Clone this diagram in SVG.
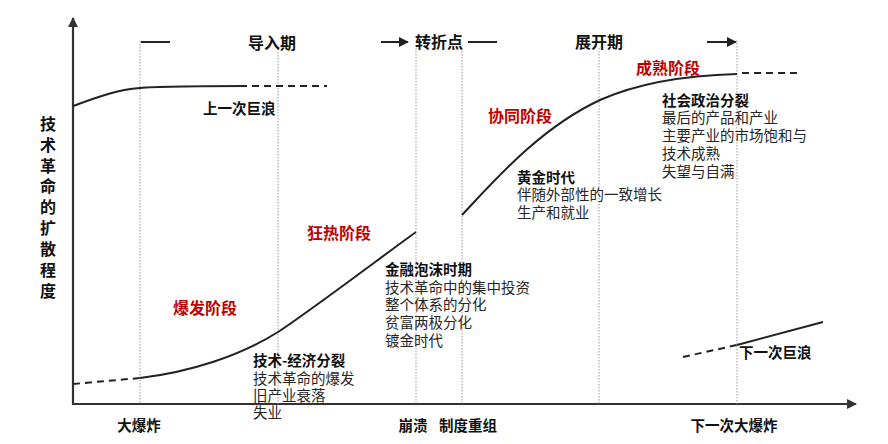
<svg xmlns="http://www.w3.org/2000/svg" width="888" height="444" viewBox="0 0 888 444">
<style>
text{font-family:"Noto Sans CJK SC","Liberation Sans",sans-serif;fill:#262626}
.b{font-weight:bold;fill:#111}
.t{font-size:16px}
.s{font-size:14.5px}
.r{font-size:16px;font-weight:bold;fill:#c00000}
.ax{stroke:#333;stroke-width:2.2;fill:none}
.dot{stroke:#999;stroke-width:1;stroke-dasharray:1.5,1.5;fill:none}
.cv{stroke:#222;stroke-width:2;fill:none}
.ds{stroke:#222;stroke-width:2;fill:none;stroke-dasharray:7,5}
.ln{stroke:#222;stroke-width:2;fill:none}
</style>
<defs>
<marker id="ah" viewBox="0 0 10 10" refX="9" refY="5" markerWidth="5" markerHeight="5" orient="auto"><path d="M0,0 L10,5 L0,10 z" fill="#222"/></marker>
<marker id="aax" viewBox="0 0 10 10" refX="9" refY="5" markerWidth="4.5" markerHeight="4.5" orient="auto"><path d="M0,0 L10,5 L0,10 z" fill="#333"/></marker>
</defs>
<rect width="888" height="444" fill="#fff"/>
<g id="axes">
<path class="ax" d="M73,405 L73,18" marker-end="url(#aax)"/>
<path class="ax" d="M72,404 L856,404" marker-end="url(#aax)"/>
<text class="b" font-size="16" x="48" text-anchor="middle"><tspan x="48" y="130">技</tspan><tspan x="48" y="151">术</tspan><tspan x="48" y="172">革</tspan><tspan x="48" y="192">命</tspan><tspan x="48" y="213">的</tspan><tspan x="48" y="234">扩</tspan><tspan x="48" y="255">散</tspan><tspan x="48" y="276">程</tspan><tspan x="48" y="297">度</tspan></text>
</g>
<g id="gridlines">
<path class="dot" d="M140,41 V404"/>
<path class="dot" d="M278,49 V404"/>
<path class="dot" d="M416,48 V404"/>
<path class="dot" d="M462,48 V404"/>
<path class="dot" d="M599,48 V404"/>
<path class="dot" d="M737,40 V404"/>
</g>
<g id="connectors">
<path class="ln" d="M141,42 H170"/>
<path class="ln" d="M381,42 H408" marker-end="url(#ah)"/>
<path class="ln" d="M468,42 H497"/>
<path class="ln" d="M707,42 H736" marker-end="url(#ah)"/>
<path class="cv" d="M73,106 C95,98 115,90 140,88 C160,86 200,86 247,86"/>
<path class="ds" d="M252,86 L327,86"/>
<path class="ds" d="M73,384 L140,378"/>
<path class="cv" d="M140,378 C190,372 240,356 278,332 C310,311 380,258 416,232"/>
<path class="cv" d="M462,215 C495,180 540,128 600,100 C645,80 700,75 737,74"/>
<path class="ds" d="M742,73 L797,73"/>
<path class="ds" d="M683,357 L737,345"/>
<path class="cv" d="M737,345 L823,322"/>
</g>
<g id="top-labels">
<text class="b t" x="272" y="49" text-anchor="middle">导入期</text>
<text class="b t" x="439" y="48" text-anchor="middle">转折点</text>
<text class="b t" x="599" y="48" text-anchor="middle">展开期</text>
</g>
<g id="bottom-labels">
<text class="b s" x="139" y="431" text-anchor="middle">大爆炸</text>
<text class="b s" x="413" y="431" text-anchor="middle">崩溃</text>
<text class="b s" x="468" y="431" text-anchor="middle">制度重组</text>
<text class="b s" x="734" y="431" text-anchor="middle">下一次大爆炸</text>
</g>
<g id="wave-labels">
<text class="b s" x="203" y="114">上一次巨浪</text>
<text class="b s" x="739" y="358">下一次巨浪</text>
</g>
<g id="stage-labels">
<text class="r" x="173" y="314">爆发阶段</text>
<text class="r" x="307" y="239">狂热阶段</text>
<text class="r" x="488" y="122">协同阶段</text>
<text class="r" x="636" y="74">成熟阶段</text>
</g>
<g id="node-split">
<text class="s"><tspan class="b" x="253" y="366">技术-经济分裂</tspan><tspan x="253" y="384">技术革命的爆发</tspan><tspan x="253" y="401">旧产业衰落</tspan><tspan x="253" y="418">失业</tspan></text>
</g>
<g id="node-bubble">
<text class="s"><tspan class="b" x="385" y="275">金融泡沫时期</tspan><tspan x="385" y="293">技术革命中的集中投资</tspan><tspan x="385" y="310">整个体系的分化</tspan><tspan x="385" y="328">贫富两极分化</tspan><tspan x="385" y="346">镀金时代</tspan></text>
</g>
<g id="node-golden">
<text class="s"><tspan class="b" x="517" y="183">黄金时代</tspan><tspan x="517" y="200">伴随外部性的一致增长</tspan><tspan x="517" y="218">生产和就业</tspan></text>
</g>
<g id="node-social">
<text class="s"><tspan class="b" x="662" y="106">社会政治分裂</tspan><tspan x="662" y="123">最后的产品和产业</tspan><tspan x="662" y="141">主要产业的市场饱和与</tspan><tspan x="662" y="159">技术成熟</tspan><tspan x="662" y="177">失望与自满</tspan></text>
</g>
</svg>
